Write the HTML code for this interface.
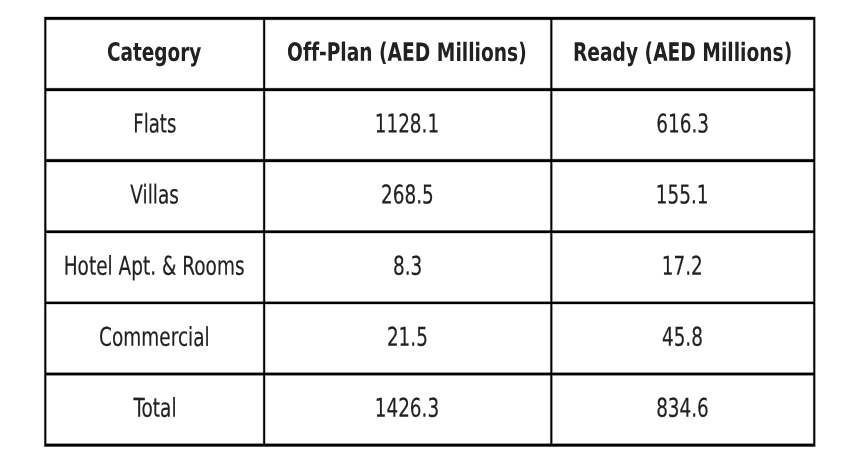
<!DOCTYPE html>
<html><head><meta charset="utf-8"><title>Table</title>
<style>
html,body{margin:0;padding:0;background:#fff;}
svg{display:block;}
text{font-family:"DejaVu Sans","Liberation Sans",sans-serif;font-size:25.9px;fill:#212121;stroke:#212121;stroke-width:0.2px;text-anchor:middle;font-variant-ligatures:none;font-kerning:normal;}
.b{font-weight:bold;font-size:25.3px;stroke:none;}
</style></head><body>
<svg width="859" height="463" viewBox="0 0 859 463">
<rect width="859" height="463" fill="#fff"/>
<path d="M43.90 16.53H815.67V20.33H43.90ZM43.90 87.65H815.67V91.45H43.90ZM43.90 158.87H815.67V162.47H43.90ZM43.90 230.09H815.67V233.49H43.90ZM43.90 301.21H815.67V304.61H43.90ZM43.90 372.28H815.67V375.78H43.90ZM43.90 443.20H815.67V447.10H43.90ZM43.90 16.53H46.70V447.10H43.90ZM262.75 16.53H265.55V447.10H262.75ZM549.93 16.53H552.73V447.10H549.93ZM812.87 16.53H815.67V447.10H812.87Z" fill="#000" fill-rule="nonzero" opacity="0.3"/>
<path d="M44.40 17.03H815.17V19.83H44.40ZM44.40 88.15H815.17V90.95H44.40ZM44.40 159.37H815.17V161.97H44.40ZM44.40 230.59H815.17V232.99H44.40ZM44.40 301.71H815.17V304.11H44.40ZM44.40 372.78H815.17V375.28H44.40ZM44.40 443.70H815.17V446.60H44.40ZM44.40 17.03H46.20V446.60H44.40ZM263.25 17.03H265.05V446.60H263.25ZM550.43 17.03H552.23V446.60H550.43ZM813.37 17.03H815.17V446.60H813.37Z" fill="#000" fill-rule="nonzero" opacity="1"/>
<text class="b" transform="translate(154.12 60.87) scale(0.7310 1) skewY(0.03)">Category</text>
<text class="b" transform="translate(406.92 60.87) scale(0.7383 1) skewY(0.03)">Off-Plan (AED Millions)</text>
<text class="b" transform="translate(682.60 60.87) scale(0.7383 1) skewY(0.03)">Ready (AED Millions)</text>
<text transform="translate(154.77 132.50) scale(0.6997 1) skewY(0.03)">Flats</text>
<text transform="translate(406.92 132.50) scale(0.7104 1) skewY(0.03)">1128.1</text>
<text transform="translate(682.60 132.50) scale(0.7104 1) skewY(0.03)">616.3</text>
<text transform="translate(154.62 203.60) scale(0.7140 1) skewY(0.03)">Villas</text>
<text transform="translate(407.35 203.60) scale(0.7104 1) skewY(0.03)">268.5</text>
<text transform="translate(682.17 203.60) scale(0.7104 1) skewY(0.03)">155.1</text>
<text transform="translate(154.12 274.75) scale(0.7140 1) skewY(0.03)">Hotel Apt. &amp; Rooms</text>
<text transform="translate(407.65 274.75) scale(0.7104 1) skewY(0.03)">8.3</text>
<text transform="translate(682.35 274.75) scale(0.7104 1) skewY(0.03)">17.2</text>
<text transform="translate(154.35 345.85) scale(0.7140 1) skewY(0.03)">Commercial</text>
<text transform="translate(407.40 345.85) scale(0.7104 1) skewY(0.03)">21.5</text>
<text transform="translate(682.45 345.85) scale(0.7104 1) skewY(0.03)">45.8</text>
<text transform="translate(155.00 416.70) scale(0.7140 1) skewY(0.03)">Total</text>
<text transform="translate(406.92 416.70) scale(0.7104 1) skewY(0.03)">1426.3</text>
<text transform="translate(682.45 416.70) scale(0.7104 1) skewY(0.03)">834.6</text>
</svg></body></html>
